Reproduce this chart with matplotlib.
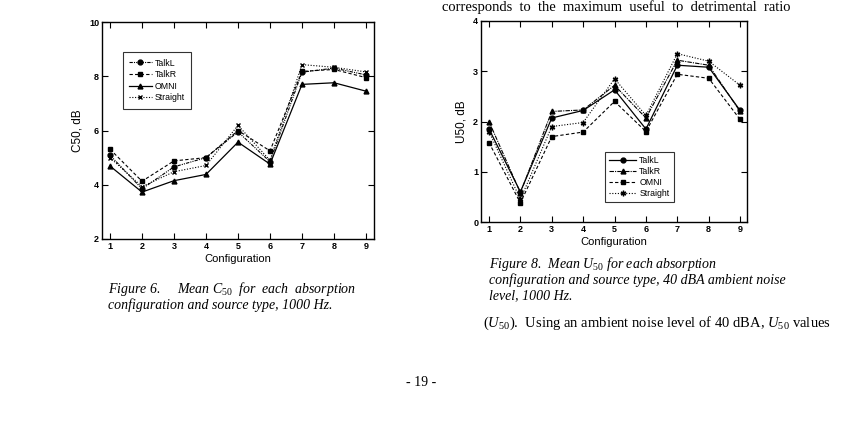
import matplotlib
matplotlib.use("Agg")
import matplotlib.pyplot as plt

plt.rcParams["mathtext.fontset"] = "custom"
plt.rcParams["mathtext.rm"] = "Liberation Serif"
plt.rcParams["mathtext.it"] = "Liberation Serif:italic"

config = [1, 2, 3, 4, 5, 6, 7, 8, 9]

# Figure 6: mean C50 (dB), 1000 Hz
c50_talkl = [5.09, 3.85, 4.66, 5.0, 5.95, 4.85, 8.15, 8.3, 8.05]
c50_talkr = [5.31, 4.13, 4.88, 5.0, 6.0, 5.25, 8.18, 8.25, 7.95]
c50_omni = [4.69, 3.73, 4.15, 4.38, 5.57, 4.76, 7.7, 7.76, 7.45]
c50_straight = [5.0, 3.93, 4.48, 4.71, 6.19, 4.9, 8.43, 8.33, 8.16]

# Figure 8: mean U50 (dB), 40 dBA ambient noise, 1000 Hz
u50_talkl = [1.85, 0.6, 2.07, 2.22, 2.63, 1.85, 3.12, 3.08, 2.22]
u50_talkr = [2.0, 0.58, 2.2, 2.23, 2.72, 2.07, 3.22, 3.12, 2.2]
u50_omni = [1.58, 0.38, 1.7, 1.79, 2.4, 1.8, 2.94, 2.86, 2.04]
u50_straight = [1.8, 0.45, 1.9, 1.98, 2.85, 2.12, 3.35, 3.2, 2.72]

W, H = 841, 445
fig = plt.figure(figsize=(W / 100, H / 100), dpi=100)
fig.patch.set_facecolor("white")

sans = "Liberation Sans"
serif = "Liberation Serif"


def px_axes(x0, y0, x1, y1):
    return fig.add_axes([x0 / W, 1 - y1 / H, (x1 - x0) / W, (y1 - y0) / H])


def style(ax):
    for s in ax.spines.values():
        s.set_linewidth(1.0)
    ax.tick_params(direction="in", top=True, right=True, length=4, width=0.8,
                   labelsize=6.5, pad=2)
    for lab in ax.get_xticklabels() + ax.get_yticklabels():
        lab.set_fontfamily(sans)
        lab.set_fontweight("bold")
    ax.set_xlabel("Configuration", fontfamily=sans, fontsize=8, labelpad=2)


# left chart
ax1 = px_axes(102, 22, 374, 239)
ax1.plot(config, c50_talkl, color="black", lw=0.8, ls=(0, (3, 1, 1, 1, 1, 1)),
         marker="o", ms=3.5, label="TalkL")
ax1.plot(config, c50_talkr, color="black", lw=0.8, ls=(0, (3, 2)),
         marker="s", ms=3.5, label="TalkR")
ax1.plot(config, c50_omni, color="black", lw=0.9, ls="-",
         marker="^", ms=3.5, label="OMNI")
ax1.plot(config, c50_straight, color="black", lw=0.8, ls=(0, (1, 1.5)),
         marker="x", ms=3.5, label="Straight")
ax1.set_xlim(0.75, 9.25)
ax1.set_ylim(2, 10)
ax1.set_xticks(config)
ax1.set_yticks([2, 4, 6, 8, 10])
ax1.set_ylabel("C50, dB", fontfamily=sans, fontsize=8.5, labelpad=4)
style(ax1)
leg1 = ax1.legend(loc="upper left", bbox_to_anchor=(0.06, 0.88),
                  prop={"family": sans, "size": 6.3}, frameon=True, fancybox=False,
                  edgecolor="black", handlelength=2.6, borderpad=0.7,
                  labelspacing=0.3, handletextpad=0.4)
leg1.get_frame().set_linewidth(0.8)

# right chart
ax2 = px_axes(481, 21, 747, 222)
ax2.plot(config, u50_talkl, color="black", lw=0.9, ls="-",
         marker="o", ms=3.5, label="TalkL")
ax2.plot(config, u50_talkr, color="black", lw=0.8, ls=(0, (4, 1, 1, 1)),
         marker="^", ms=3.5, label="TalkR")
ax2.plot(config, u50_omni, color="black", lw=0.8, ls=(0, (3, 2)),
         marker="s", ms=3.5, label="OMNI")
ax2.plot(config, u50_straight, color="black", lw=0.8, ls=(0, (1, 1.5)),
         marker=(6, 2, 0), ms=4, label="Straight")
ax2.set_xlim(0.745, 9.22)
ax2.set_ylim(0, 4)
ax2.set_xticks(config)
ax2.set_yticks([0, 1, 2, 3, 4])
ax2.set_ylabel("U50, dB", fontfamily=sans, fontsize=8.5, labelpad=4)
style(ax2)
leg2 = ax2.legend(loc="upper left", bbox_to_anchor=(0.45, 0.37),
                  prop={"family": sans, "size": 6.3}, frameon=True, fancybox=False,
                  edgecolor="black", handlelength=3, borderpad=0.5,
                  labelspacing=0.2, handletextpad=0.4)
leg2.get_frame().set_linewidth(0.8)

# page text
def ftext(x, y, s, **kw):
    fig.text(x / W, 1 - y / H, s, va="center", **kw)


cap = dict(fontfamily=serif, fontstyle="italic", fontsize=10)
ftext(108, 289, "Figure 6.     Mean $C_{50}$  for  each  absorption", **cap)
ftext(108, 305, "configuration and source type, 1000 Hz.", **cap)
ftext(489, 264, "Figure 8.  Mean $U_{50}$ for each absorption", **cap)
ftext(489, 280, "configuration and source type, 40 dBA ambient noise", **cap)
ftext(489, 296, "level, 1000 Hz.", **cap)
ftext(483, 323, "($U_{50}$).  Using an ambient noise level of 40 dBA, $U_{50}$ values",
      fontfamily=serif, fontsize=10.5)
ftext(442, 7, "corresponds  to  the  maximum  useful  to  detrimental  ratio",
      fontfamily=serif, fontsize=10.5)
ftext(421, 383, "- 19 -", fontfamily=serif, fontsize=10, ha="center")

fig.savefig("out.png", dpi=100, facecolor="white")
